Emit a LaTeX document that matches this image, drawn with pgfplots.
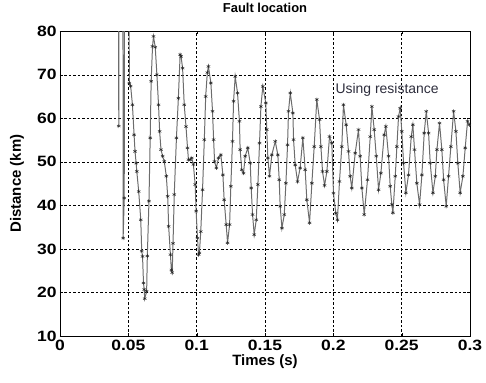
\documentclass[border=0pt]{standalone}
\usepackage{fontspec}
\setmainfont{Liberation Sans}
\newfontfamily\tickfont[FakeStretch=1.17]{Liberation Sans}
\usepackage{pgfplots}
\pgfplotsset{compat=1.18}
\definecolor{txtcol}{RGB}{45,45,60}
\begin{document}
\begin{tikzpicture}
\begin{axis}[
 scale only axis, width=410bp, height=305bp,
 xmin=0, xmax=0.3, ymin=10, ymax=80,
 xtick={0,0.05,0.1,0.15,0.2,0.25,0.3},
 xticklabels={0,0.05,0.1,0.15,0.2,0.25,0.3},
 ytick={10,20,30,40,50,60,70,80},
 yticklabels={10,20,30,40,50,60,70,80},
 grid=major,
 major grid style={black, dash pattern=on 2.5pt off 2pt, line width=0.4pt},
 tick align=inside, major tick length=3bp,
 tick style={black},
 tick label style={font=\tickfont\fontsize{15}{15}\selectfont\bfseries},
 xlabel={Times (s)}, ylabel={Distance (km)},
 label style={font=\fontsize{15}{15}\selectfont\bfseries},
 xlabel style={at={(axis description cs:0.5,-0.085)}, anchor=center},
 ylabel style={at={(axis description cs:-0.105,0.5)}, anchor=center},
 title={Fault location},
 title style={font=\fontsize{13}{13}\selectfont\bfseries, at={(axis description cs:0.5,1.056)}, anchor=center},
 axis line style={black, line width=0.6pt},
]
\addplot[color=gray!85!black, line width=1pt, mark=asterisk, mark size=2pt,
  mark options={black!85, line width=0.45pt, solid}] coordinates {
(0.0425,200) (0.0430,58.2) (0.0436,200) (0.0458,200) (0.0462,32.5) (0.0470,41.7)
(0.0474,200) (0.0502,200) (0.0507,68.1) (0.0517,67.4) (0.0530,63.1) (0.0542,56.2)
(0.0549,52.4) (0.0557,49.7) (0.0562,47.8) (0.0576,43.2) (0.0591,36.7) (0.0598,29.5)
(0.0604,28.3) (0.0611,22.2) (0.0616,20.7) (0.0620,18.6) (0.0634,20.3) (0.0639,28.4)
(0.0651,41.0) (0.0660,55.5) (0.0667,68.5) (0.0677,76.5) (0.0684,78.8) (0.0697,76.3)
(0.0709,70.0) (0.0721,63.1) (0.0729,57.0) (0.0739,52.8) (0.0751,51.3) (0.0763,50.1)
(0.0778,46.7) (0.0788,42.1) (0.0795,35.2) (0.0808,28.7) (0.0815,25.2) (0.0821,24.6)
(0.0827,31.3) (0.0836,42.5) (0.0852,55.5) (0.0866,64.6) (0.0879,74.6) (0.0886,74.2)
(0.0897,71.5) (0.0909,63.1) (0.0922,58.1) (0.0933,53.2) (0.0940,50.5) (0.0952,50.5)
(0.0964,50.9) (0.0976,49.4) (0.0989,44.8) (0.0996,38.7) (0.1006,32.5) (0.1014,28.7)
(0.1020,29.1) (0.1030,34.0) (0.1043,43.6) (0.1056,55.1) (0.1066,65.0) (0.1078,70.5)
(0.1086,71.9) (0.1104,68.1) (0.1116,61.6) (0.1124,55.1) (0.1131,50.1) (0.1144,48.6)
(0.1160,50.9) (0.1177,51.6) (0.1192,47.0) (0.1201,41.3) (0.1216,35.6) (0.1226,31.4)
(0.1241,35.6) (0.1250,44.4) (0.1262,54.7) (0.1270,63.9) (0.1282,69.6) (0.1299,65.8)
(0.1313,59.3) (0.1318,52.8) (0.1330,48.2) (0.1343,47.4) (0.1355,51.3) (0.1374,53.2)
(0.1392,49.7) (0.1399,44.0) (0.1409,37.9) (0.1421,33.3) (0.1436,36.7) (0.1448,44.8)
(0.1460,54.3) (0.1470,62.7) (0.1484,67.3) (0.1506,63.5) (0.1513,57.4) (0.1521,50.9)
(0.1533,46.7) (0.1550,51.6) (0.1575,54.7) (0.1594,51.6) (0.1604,45.9) (0.1611,39.8)
(0.1624,34.8) (0.1641,37.9) (0.1653,45.1) (0.1665,53.9) (0.1672,61.6) (0.1685,65.8)
(0.1704,61.2) (0.1709,55.1) (0.1721,49.3) (0.1738,45.5) (0.1757,48.6) (0.1777,55.5)
(0.1794,48.2) (0.1806,41.3) (0.1826,36.0) (0.1843,45.1) (0.1860,53.5) (0.1879,64.3)
(0.1899,59.7) (0.1909,53.5) (0.1921,47.8) (0.1936,44.6) (0.1953,47.8) (0.1972,55.8)
(0.1989,54.3) (0.2001,42.8) (0.2018,38.2) (0.2030,36.7) (0.2045,45.5) (0.2062,53.5)
(0.2074,63.1) (0.2094,58.5) (0.2111,52.4) (0.2123,46.7) (0.2135,44.0) (0.2160,52.0)
(0.2184,57.4) (0.2196,51.3) (0.2209,44.0) (0.2226,37.9) (0.2250,45.9) (0.2270,55.8)
(0.2282,62.7) (0.2299,57.4) (0.2314,51.3) (0.2331,43.6) (0.2348,47.4) (0.2372,56.2)
(0.2384,58.1) (0.2404,51.3) (0.2416,44.4) (0.2428,40.2) (0.2436,38.3) (0.2453,46.7)
(0.2465,53.5) (0.2477,60.4) (0.2489,62.3) (0.2501,57.0) (0.2514,49.7) (0.2531,42.9)
(0.2550,47.0) (0.2570,55.8) (0.2582,58.5) (0.2594,52.8) (0.2611,45.1) (0.2631,40.2)
(0.2648,47.0) (0.2665,56.6) (0.2680,61.6) (0.2697,56.6) (0.2709,49.7) (0.2729,42.9)
(0.2746,46.7) (0.2758,52.8) (0.2777,58.9) (0.2794,52.8) (0.2807,45.9) (0.2826,39.8)
(0.2843,46.7) (0.2860,53.5) (0.2880,61.6) (0.2897,57.0) (0.2911,49.7) (0.2928,42.9)
(0.2948,46.7) (0.2965,53.2) (0.2982,59.3) (0.2995,58.5)
};
\node[anchor=west, inner sep=0pt, text=txtcol, font=\fontsize{14}{14}\selectfont] at (axis cs:0.2015,66.6) {Using resistance};
\end{axis}
\path (current axis.south west) ++(-60bp,-46bp) coordinate (bbA);
\path (current axis.north east) ++(16bp,28bp) coordinate (bbB);
\path (bbA) rectangle (bbB);
\end{tikzpicture}
\end{document}
